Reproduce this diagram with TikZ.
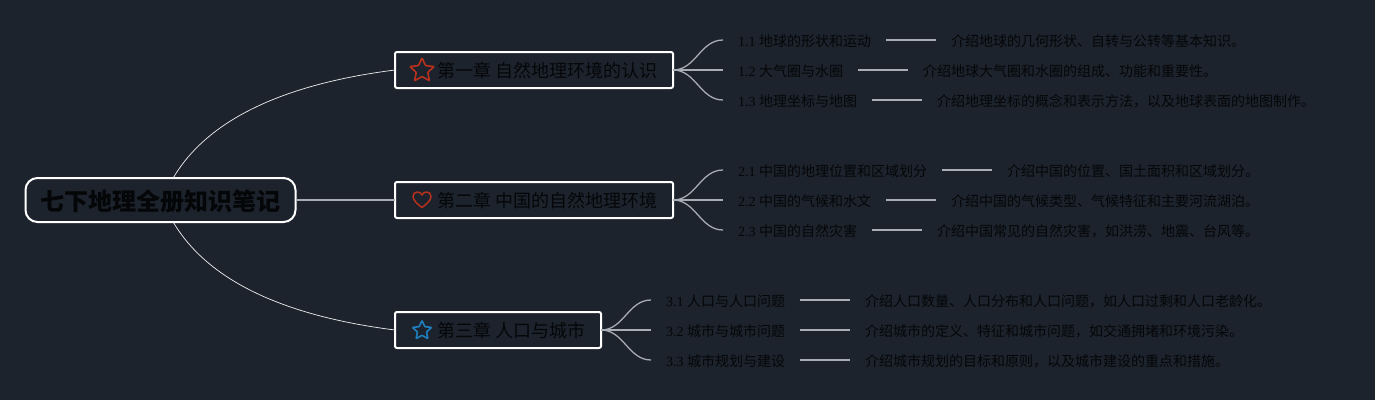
\documentclass[tikz,border=0pt]{standalone}
\usepackage{fontspec}
\usetikzlibrary{positioning,shapes.geometric}
\setmainfont{Liberation Serif}
\newfontfamily\cjk{Noto Sans CJK SC}
\definecolor{bgc}{HTML}{1C232D}
\definecolor{inkc}{HTML}{050608}
\definecolor{linkc}{HTML}{A9AEB5}
\definecolor{redc}{HTML}{B9301C}
\definecolor{bluec}{HTML}{1F7FBF}
\tikzset{
  rootbox/.style={draw=white,line width=1.5pt,rounded corners=9pt,fill=bgc,text=inkc,inner sep=0pt,outer sep=0pt,minimum width=202.5pt,minimum height=33pt,font=\cjk\fontsize{18}{18}\selectfont\bfseries,text height=18pt,text depth=2.3pt},
  chapbox/.style={draw=white,line width=1.5pt,rounded corners=1.5pt,text=inkc,inner ysep=0pt,outer sep=0pt,inner xsep=0pt,minimum height=27pt,anchor=west,font=\cjk\fontsize{13.5}{13.5}\selectfont,text height=13.5pt,text depth=2pt},
  leafbox/.style={inner xsep=11.25pt,inner ysep=0pt,outer sep=0pt,anchor=west,text=inkc,font=\fontsize{10.5}{10.5}\selectfont,text height=11.5pt,text depth=2pt},
  descnode/.style={leafbox,right=37.5pt of #1},
  biglink/.style={draw=white!90!bgc,line width=.55pt},
  midlink/.style={draw=linkc,line width=1.3pt},
  branch/.style={draw=linkc,line width=.95pt},
  dashlink/.style={draw=linkc,line width=1.3pt},
  iconred/.style={draw=redc,line width=1.2pt,inner sep=0pt,outer sep=0pt},
  iconblue/.style={draw=bluec,line width=1.2pt,inner sep=0pt,outer sep=0pt}
}
\newcommand{\chap}[2]{\hspace*{31.5pt}#1 #2\hspace*{12pt}}
\newcommand{\lf}[2]{#1 {\cjk #2}}
\newcommand{\ds}[1]{{\cjk #1}}
\begin{document}
\begin{tikzpicture}[x=.75pt,y=-.75pt]
\useasboundingbox (0,0) rectangle (1375,400);
\fill[bgc] (0,0) rectangle (1375,400);
\node[rootbox] (root) at (160.5,200) {七下地理全册知识笔记};
\node[chapbox] (c1) at (395,70) {\chap{第一章}{自然地理环境的认识}};
\node[chapbox] (c2) at (395,200) {\chap{第二章}{中国的自然地理环境}};
\node[chapbox] (c3) at (395,330) {\chap{第三章}{人口与城市}};
% icons
\node[iconred,star,star points=5,star point ratio=2.1,minimum size=19pt,rounded corners=.6pt] (i1) at (422,70.5) {};
\coordinate (i2) at (422,199.5);
\draw[shift={(i2)},redc,line width=1.1pt,line join=round] (0,8) .. controls (-4,5) and (-9,1) .. (-9,-3) .. controls (-9,-6) and (-7,-7.5) .. (-4.5,-7.5) .. controls (-2.5,-7.5) and (-1,-6.5) .. (0,-4.5) .. controls (1,-6.5) and (2.5,-7.5) .. (4.5,-7.5) .. controls (7,-7.5) and (9,-6) .. (9,-3) .. controls (9,1) and (4,5) .. (0,8) -- cycle;
\node[iconblue,star,star points=5,star point ratio=2.1,minimum size=15pt,rounded corners=.5pt] (i3) at (422,330.5) {};
% chapter 1
\node[leafbox] (a1) at (723,40) {\lf{1.1}{地球的形状和运动}};
\node[leafbox] (a2) at (723,70) {\lf{1.2}{大气圈与水圈}};
\node[leafbox] (a3) at (723,100) {\lf{1.3}{地理坐标与地图}};
\node[descnode=a1] (d1) {\ds{介绍地球的几何形状、自转与公转等基本知识。}};
\node[descnode=a2] (d2) {\ds{介绍地球大气圈和水圈的组成、功能和重要性。}};
\node[descnode=a3] (d3) {\ds{介绍地理坐标的概念和表示方法，以及地球表面的地图制作。}};
% chapter 2
\node[leafbox] (b1) at (723,170) {\lf{2.1}{中国的地理位置和区域划分}};
\node[leafbox] (b2) at (723,200) {\lf{2.2}{中国的气候和水文}};
\node[leafbox] (b3) at (723,230) {\lf{2.3}{中国的自然灾害}};
\node[descnode=b1] (e1) {\ds{介绍中国的位置、国土面积和区域划分。}};
\node[descnode=b2] (e2) {\ds{介绍中国的气候类型、气候特征和主要河流湖泊。}};
\node[descnode=b3] (e3) {\ds{介绍中国常见的自然灾害，如洪涝、地震、台风等。}};
% chapter 3
\node[leafbox] (f1) at (651,300) {\lf{3.1}{人口与人口问题}};
\node[leafbox] (f2) at (651,330) {\lf{3.2}{城市与城市问题}};
\node[leafbox] (f3) at (651,360) {\lf{3.3}{城市规划与建设}};
\node[descnode=f1] (g1) {\ds{介绍人口数量、人口分布和人口问题，如人口过剩和人口老龄化。}};
\node[descnode=f2] (g2) {\ds{介绍城市的定义、特征和城市问题，如交通拥堵和环境污染。}};
\node[descnode=f3] (g3) {\ds{介绍城市规划的目标和原则，以及城市建设的重点和措施。}};
% connectors
\draw[biglink] ([xshift=9.5pt]root.north) .. controls (212,112) and (300,82) .. (c1.west);
\draw[biglink] ([xshift=9.5pt]root.south) .. controls (212,288) and (300,318) .. (c3.west);
\draw[midlink] (root.east) -- (c2.west);
\foreach \c/\x in {c1/a,c2/b,c3/f}{
  \draw[branch] (\c.east) to[out=0,in=180] (\x1.west);
  \draw[branch] (\c.east) -- (\x2.west);
  \draw[branch] (\c.east) to[out=0,in=180] (\x3.west);
}
\foreach \u/\v in {a1/d1,a2/d2,a3/d3,b1/e1,b2/e2,b3/e3,f1/g1,f2/g2,f3/g3}{
  \draw[dashlink] (\u.east) -- (\v.west);
}
\end{tikzpicture}
\end{document}
